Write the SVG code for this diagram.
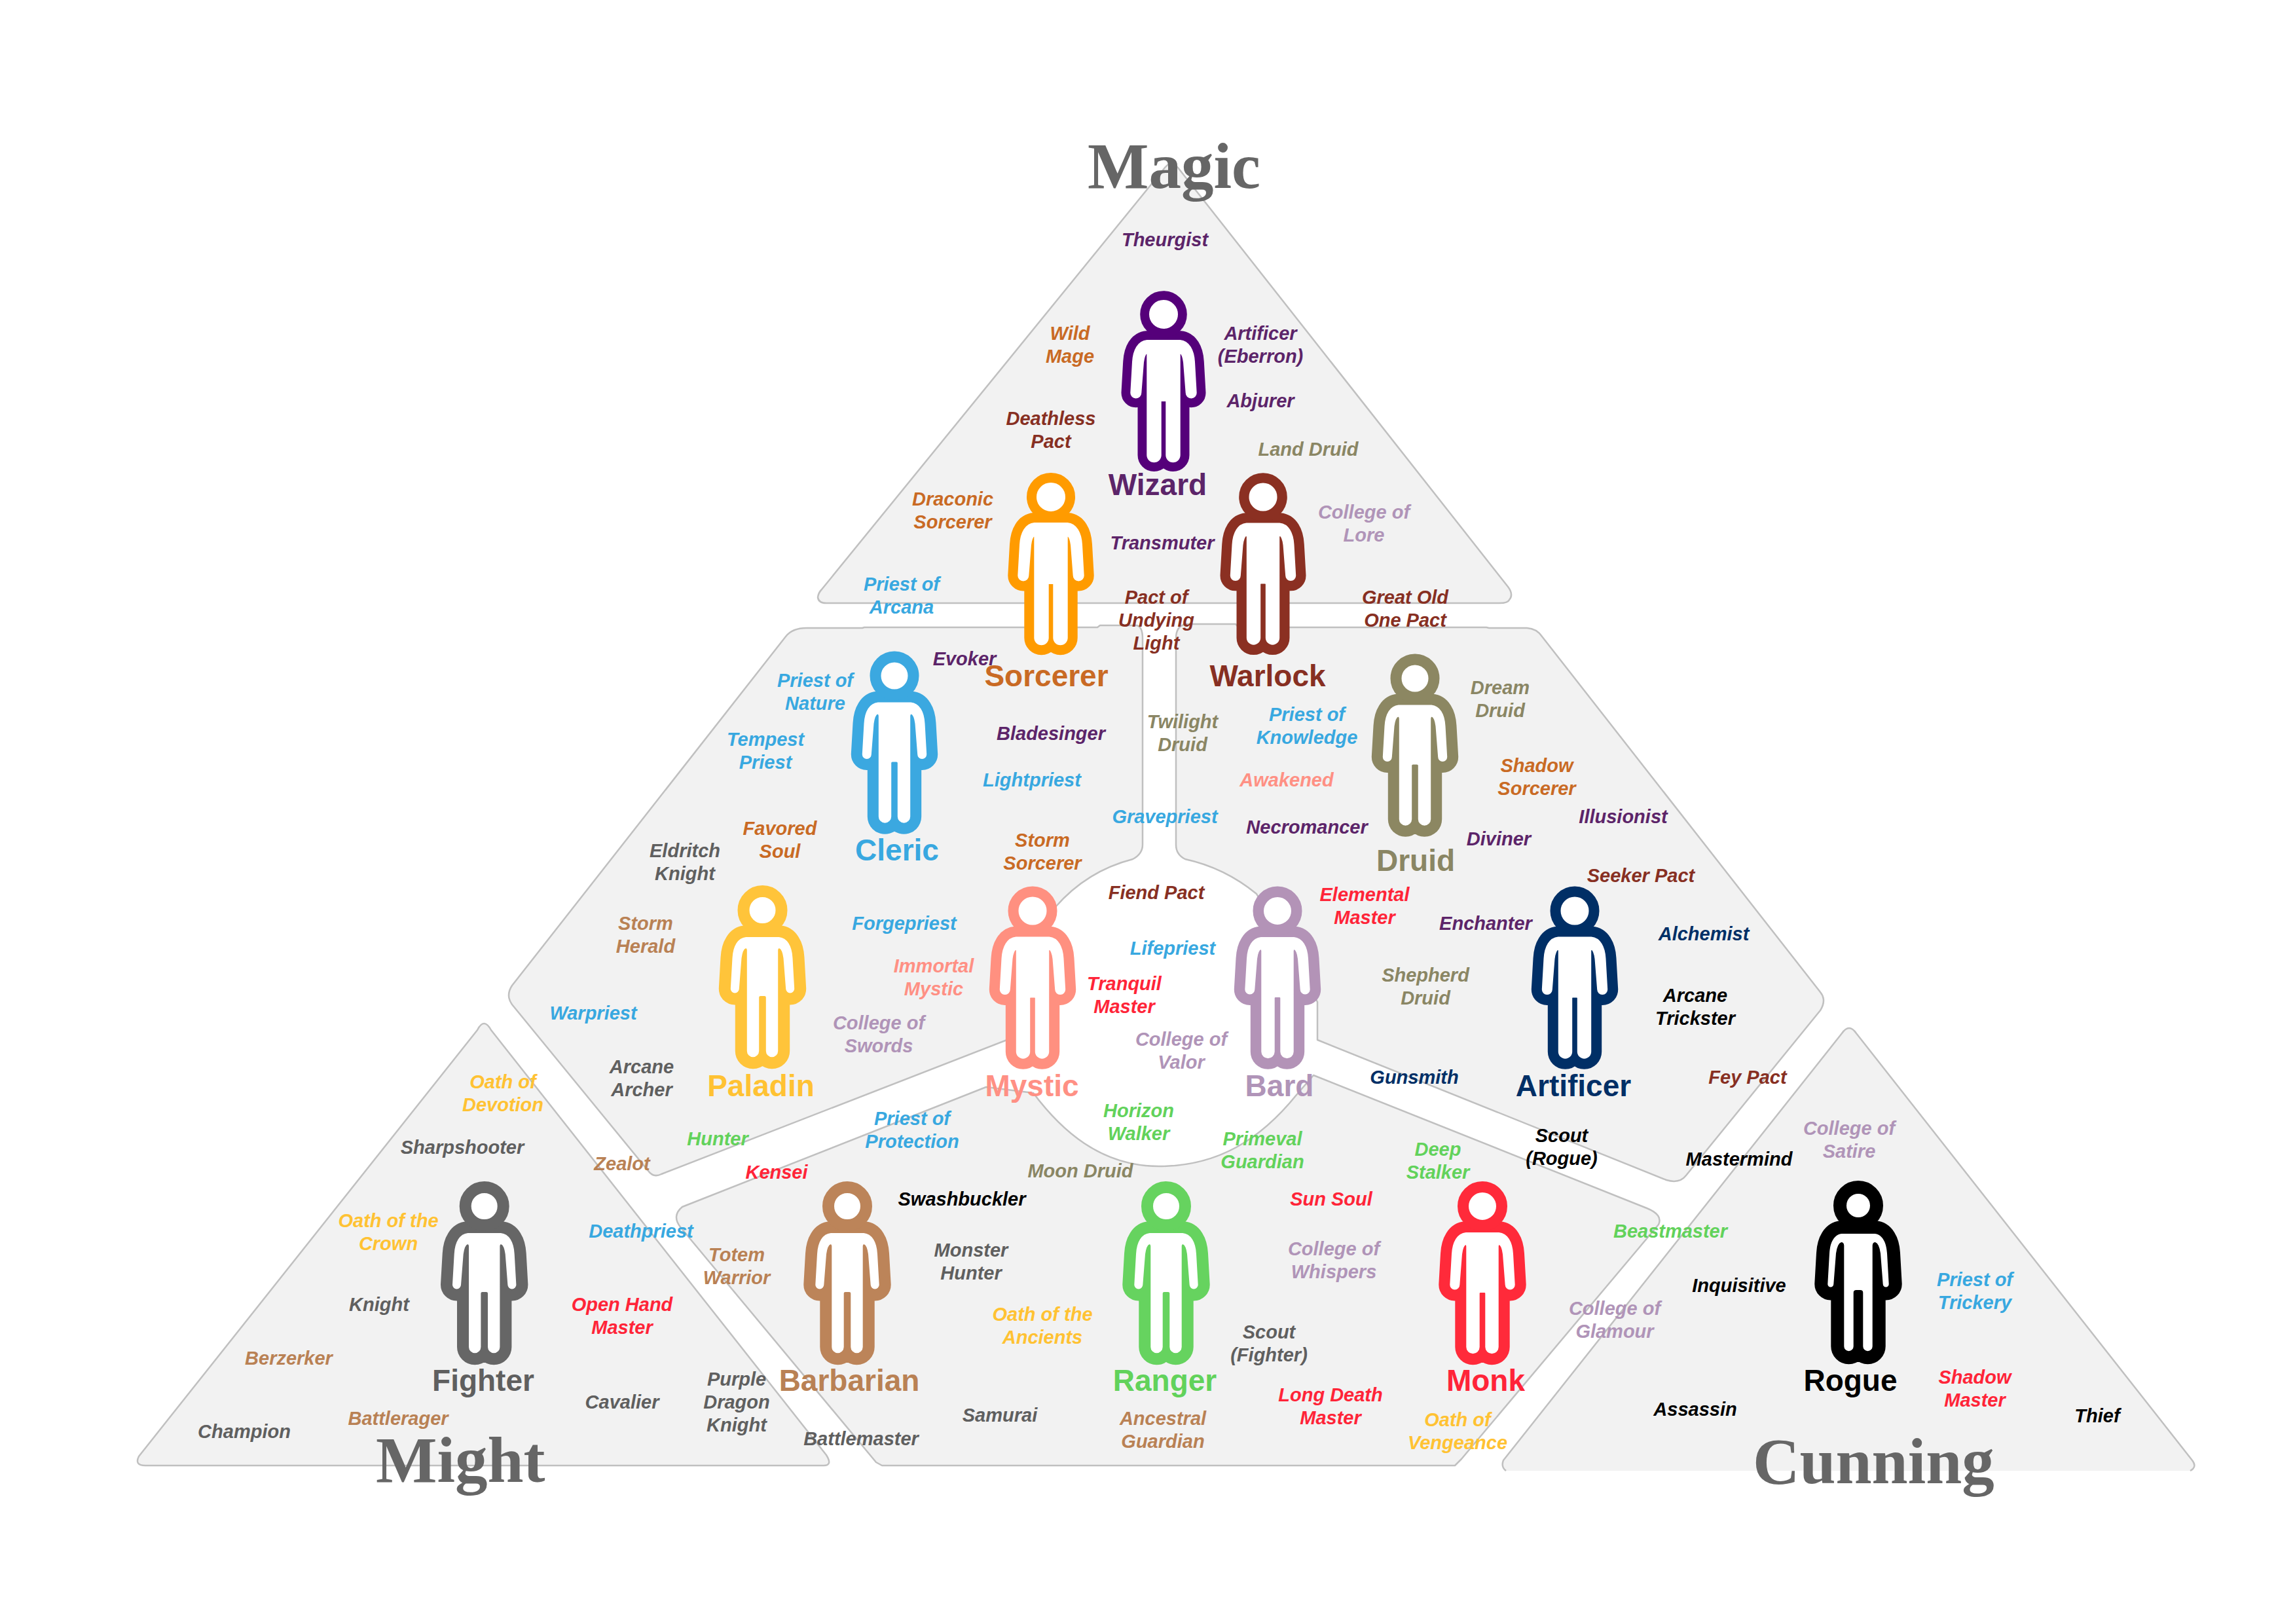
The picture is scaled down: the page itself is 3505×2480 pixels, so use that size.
<svg xmlns="http://www.w3.org/2000/svg" width="3505" height="2480" viewBox="0 0 3505 2480">
<style>
.r{fill:#f2f2f2;stroke:#c0c0c0;stroke-width:2.5;stroke-linejoin:round}
.title{font:bold 99px "Liberation Serif",serif;fill:#666}
.n{font:bold 46px "Liberation Sans",Arial,sans-serif;text-anchor:middle}
.l text,.l{font:italic bold 29px "Liberation Sans",Arial,sans-serif;text-anchor:middle}
.po{stroke-width:var(--t);stroke-linejoin:round;fill:none}
.pw{fill:#fff;stroke:#fff;stroke-width:var(--w);stroke-linejoin:round}
.wiz{fill:#5c2469}.sor{fill:#c96a24}.war{fill:#872f22}.cle{fill:#38a8e0}.dru{fill:#8a8664}.mys{fill:#ff9084}.brd{fill:#b094b8}.pal{fill:#ffc233}.art{fill:#002f66}.fig{fill:#5f5f5f}.bbn{fill:#b98154}.ran{fill:#62d25b}.mon{fill:#ff2438}.rog{fill:#000}
</style>
<defs>
<path id="pb" d="M-25 80C-36 81-43 92-44 110L-46.7 157A4.5 4.5 0 0 0-37.7 157L-34 110Q-32 95-26 93Q-22 93-21.7 98L-21.7 252A7.2 7.2 0 0 0-7.3 252L-7.3 170Q-7.3 166-3 166L3 166Q7.3 166 7.3 170L7.3 252A7.2 7.2 0 0 0 21.7 252L21.7 98Q22 93 26 93Q32 95 34 110L37.7 157A4.5 4.5 0 0 0 46.7 157L44 110C43 92 36 81 25 80Z"/>
<g id="person">
<use href="#pb" class="po"/>
<circle class="po" cx="0" cy="37" r="18"/>
<use href="#pb" class="pw"/>
<circle class="pw" cx="0" cy="37" r="18"/>
</g>
</defs>
<g id="regions">
<path id="region-magic" class="r" d="M1779 256Q1789 244 1799 256L2303 896Q2312 908 2305 916Q2303 921 2290 921L1262 921Q1250 921 1249 912Q1250 905 1255 900Z"/>
<path id="region-upper-left" class="r" d="M1232 959L1317 959L1320 958L1676 958L1680 955L1736 955Q1745 957 1745 975L1745 1290Q1745 1304 1730 1312Q1660 1330 1612 1385L1538 1588L1010 1793Q998 1799 990 1788L782 1534Q772 1520 782 1505L1200 972Q1210 959 1232 959Z"/>
<path id="region-upper-right" class="r" d="M1796 975Q1796 955 1812 953L1887 953L1892 958L2270 958L2274 959L2332 959Q2347 960 2355 972L2780 1515Q2790 1527 2780 1543L2575 1795Q2565 1808 2545 1802L2012 1588L2012 1530L1919 1365Q1870 1325 1810 1312Q1796 1305 1796 1290Z"/>
<path id="region-lower" class="r" d="M1042 1843L1506 1660L1578 1669C1620 1725 1680 1781 1770 1781C1860 1781 1925 1740 1980 1672L2006 1642L2515 1845Q2540 1855 2533 1870L2232 2228L2222 2238L1347 2238L1338 2233L1040 1875Q1025 1857 1042 1843Z"/>
<path id="region-might" class="r" d="M729 1573Q739 1553 750 1573L1262 2222Q1272 2238 1258 2238L222 2238Q205 2238 212 2224Z"/>
<path id="region-cunning" class="r" d="M2300 2246Q2292 2240 2296 2230L2813 1578Q2824 1562 2835 1578L3348 2230Q3356 2240 3345 2246"/>
</g>
<g id="wizard"><use href="#person" x="1777" y="443" stroke="#55007a" style="--t:35.6;--w:8"/><text class="n wiz" x="1768" y="756">Wizard</text></g>
<g id="sorcerer"><use href="#person" x="1605" y="722" stroke="#ff9b00" style="--t:38;--w:8"/><text class="n sor" x="1598" y="1048">Sorcerer</text></g>
<g id="warlock"><use href="#person" x="1929" y="722" stroke="#8b3022" style="--t:37.6;--w:7"/><text class="n war" x="1936" y="1048">Warlock</text></g>
<g id="cleric"><use href="#person" x="1366" y="995" stroke="#3ba8e0" style="--t:39;--w:5"/><text class="n cle" x="1370" y="1314">Cleric</text></g>
<g id="druid"><use href="#person" x="2161" y="999" stroke="#8c8762" style="--t:39;--w:5"/><text class="n dru" x="2162" y="1330">Druid</text></g>
<g id="mystic"><use href="#person" x="1577" y="1354" stroke="#ff9080" style="--t:39;--w:7"/><text class="n mys" x="1576" y="1674">Mystic</text></g>
<g id="bard"><use href="#person" x="1951" y="1354" stroke="#b393b7" style="--t:39;--w:6"/><text class="n brd" x="1954" y="1674">Bard</text></g>
<g id="paladin"><use href="#person" x="1164.5" y="1353" stroke="#ffc43a" style="--t:40;--w:4"/><text class="n pal" x="1162" y="1674">Paladin</text></g>
<g id="artificer"><use href="#person" x="2405" y="1354" stroke="#002f66" style="--t:39;--w:7"/><text class="n art" x="2403" y="1674">Artificer</text></g>
<g id="fighter"><use href="#person" x="739.7" y="1805" stroke="#666" style="--t:40;--w:4"/><text class="n fig" x="738" y="2124">Fighter</text></g>
<g id="barbarian"><use href="#person" x="1294" y="1805" stroke="#bc8459" style="--t:40;--w:4"/><text class="n bbn" x="1297" y="2124">Barbarian</text></g>
<g id="ranger"><use href="#person" x="1781" y="1805" stroke="#66d35f" style="--t:40;--w:4"/><text class="n ran" x="1779" y="2124">Ranger</text></g>
<g id="monk"><use href="#person" x="2264" y="1805" stroke="#ff2a3a" style="--t:40;--w:6"/><text class="n mon" x="2269" y="2124">Monk</text></g>
<g id="rogue"><use href="#person" x="2838" y="1804" stroke="#000" style="--t:40;--w:0"/><text class="n rog" x="2826" y="2124">Rogue</text></g>
<g id="subclasses" class="l" transform="translate(0 2)">
<text class="wiz" x="1779" y="374">Theurgist</text>
<text class="sor" x="1634" y="517">Wild<tspan x="1634" dy="35">Mage</tspan></text>
<text class="wiz" x="1925" y="517">Artificer<tspan x="1925" dy="35">(Eberron)</tspan></text>
<text class="wiz" x="1925" y="620">Abjurer</text>
<text class="war" x="1605" y="647">Deathless<tspan x="1605" dy="35">Pact</tspan></text>
<text class="dru" x="1998" y="694">Land Druid</text>
<text class="sor" x="1455" y="770">Draconic<tspan x="1455" dy="35">Sorcerer</tspan></text>
<text class="brd" x="2083" y="790">College of<tspan x="2083" dy="35">Lore</tspan></text>
<text class="wiz" x="1775" y="837">Transmuter</text>
<text class="cle" x="1377" y="900">Priest of<tspan x="1377" dy="35">Arcana</tspan></text>
<text class="war" x="1766" y="920">Pact of<tspan x="1766" dy="35">Undying</tspan><tspan x="1766" dy="35">Light</tspan></text>
<text class="war" x="2146" y="920">Great Old<tspan x="2146" dy="35">One Pact</tspan></text>
<text class="wiz" x="1473" y="1014">Evoker</text>
<text class="cle" x="1245" y="1047">Priest of<tspan x="1245" dy="35">Nature</tspan></text>
<text class="dru" x="2291" y="1058">Dream<tspan x="2291" dy="35">Druid</tspan></text>
<text class="dru" x="1806" y="1110">Twilight<tspan x="1806" dy="35">Druid</tspan></text>
<text class="cle" x="1996" y="1099">Priest of<tspan x="1996" dy="35">Knowledge</tspan></text>
<text class="wiz" x="1605" y="1128">Bladesinger</text>
<text class="cle" x="1169" y="1137">Tempest<tspan x="1169" dy="35">Priest</tspan></text>
<text class="sor" x="2347" y="1177">Shadow<tspan x="2347" dy="35">Sorcerer</tspan></text>
<text class="cle" x="1576" y="1199">Lightpriest</text>
<text class="mys" x="1965" y="1199">Awakened</text>
<text class="cle" x="1779" y="1255">Gravepriest</text>
<text class="wiz" x="2479" y="1255">Illusionist</text>
<text class="wiz" x="1996" y="1271">Necromancer</text>
<text class="sor" x="1191" y="1273">Favored<tspan x="1191" dy="35">Soul</tspan></text>
<text class="fig" x="1046" y="1307">Eldritch<tspan x="1046" dy="35">Knight</tspan></text>
<text class="wiz" x="2289" y="1289">Diviner</text>
<text class="sor" x="1592" y="1291">Storm<tspan x="1592" dy="35">Sorcerer</tspan></text>
<text class="war" x="2506" y="1345">Seeker Pact</text>
<text class="war" x="1766" y="1371">Fiend Pact</text>
<text class="mon" x="2084" y="1374">Elemental<tspan x="2084" dy="35">Master</tspan></text>
<text class="cle" x="1381" y="1418">Forgepriest</text>
<text class="bbn" x="986" y="1418">Storm<tspan x="986" dy="35">Herald</tspan></text>
<text class="wiz" x="2269" y="1418">Enchanter</text>
<text class="art" x="2602" y="1434">Alchemist</text>
<text class="cle" x="1791" y="1456">Lifepriest</text>
<text class="mys" x="1426" y="1483">Immortal<tspan x="1426" dy="35">Mystic</tspan></text>
<text class="dru" x="2177" y="1497">Shepherd<tspan x="2177" dy="35">Druid</tspan></text>
<text class="mon" x="1717" y="1510">Tranquil<tspan x="1717" dy="35">Master</tspan></text>
<text class="rog" x="2589" y="1528">Arcane<tspan x="2589" dy="35">Trickster</tspan></text>
<text class="cle" x="906" y="1555">Warpriest</text>
<text class="brd" x="1342" y="1570">College of<tspan x="1342" dy="35">Swords</tspan></text>
<text class="brd" x="1804" y="1595">College of<tspan x="1804" dy="35">Valor</tspan></text>
<text class="fig" x="980" y="1637">Arcane<tspan x="980" dy="35">Archer</tspan></text>
<text class="art" x="2160" y="1653">Gunsmith</text>
<text class="war" x="2669" y="1653">Fey Pact</text>
<text class="pal" x="768" y="1660">Oath of<tspan x="768" dy="35">Devotion</tspan></text>
<text class="ran" x="1739" y="1704">Horizon<tspan x="1739" dy="35">Walker</tspan></text>
<text class="cle" x="1393" y="1716">Priest of<tspan x="1393" dy="35">Protection</tspan></text>
<text class="ran" x="1096" y="1747">Hunter</text>
<text class="ran" x="1928" y="1747">Primeval<tspan x="1928" dy="35">Guardian</tspan></text>
<text class="rog" x="2385" y="1742">Scout<tspan x="2385" dy="35">(Rogue)</tspan></text>
<text class="brd" x="2824" y="1731">College of<tspan x="2824" dy="35">Satire</tspan></text>
<text class="fig" x="706" y="1760">Sharpshooter</text>
<text class="ran" x="2196" y="1763">Deep<tspan x="2196" dy="35">Stalker</tspan></text>
<text class="rog" x="2656" y="1778">Mastermind</text>
<text class="bbn" x="950" y="1785">Zealot</text>
<text class="dru" x="1650" y="1796">Moon Druid</text>
<text class="mon" x="1186" y="1798">Kensei</text>
<text class="rog" x="1469" y="1839">Swashbuckler</text>
<text class="mon" x="2033" y="1839">Sun Soul</text>
<text class="pal" x="593" y="1872">Oath of the<tspan x="593" dy="35">Crown</tspan></text>
<text class="cle" x="979" y="1888">Deathpriest</text>
<text class="ran" x="2551" y="1888">Beastmaster</text>
<text class="brd" x="2037" y="1915">College of<tspan x="2037" dy="35">Whispers</tspan></text>
<text class="fig" x="1483" y="1917">Monster<tspan x="1483" dy="35">Hunter</tspan></text>
<text class="bbn" x="1125" y="1924">Totem<tspan x="1125" dy="35">Warrior</tspan></text>
<text class="cle" x="3016" y="1962">Priest of<tspan x="3016" dy="35">Trickery</tspan></text>
<text class="rog" x="2656" y="1971">Inquisitive</text>
<text class="mon" x="950" y="2000">Open Hand<tspan x="950" dy="35">Master</tspan></text>
<text class="fig" x="579" y="2000">Knight</text>
<text class="brd" x="2466" y="2006">College of<tspan x="2466" dy="35">Glamour</tspan></text>
<text class="pal" x="1592" y="2015">Oath of the<tspan x="1592" dy="35">Ancients</tspan></text>
<text class="fig" x="1938" y="2042">Scout<tspan x="1938" dy="35">(Fighter)</tspan></text>
<text class="bbn" x="441" y="2082">Berzerker</text>
<text class="fig" x="1125" y="2114">Purple<tspan x="1125" dy="35">Dragon</tspan><tspan x="1125" dy="35">Knight</tspan></text>
<text class="mon" x="3016" y="2111">Shadow<tspan x="3016" dy="35">Master</tspan></text>
<text class="mon" x="2032" y="2138">Long Death<tspan x="2032" dy="35">Master</tspan></text>
<text class="fig" x="950" y="2149">Cavalier</text>
<text class="rog" x="2589" y="2160">Assassin</text>
<text class="fig" x="1527" y="2169">Samurai</text>
<text class="rog" x="3203" y="2170">Thief</text>
<text class="bbn" x="1776" y="2174">Ancestral<tspan x="1776" dy="35">Guardian</tspan></text>
<text class="bbn" x="608" y="2174">Battlerager</text>
<text class="pal" x="2226" y="2176">Oath of<tspan x="2226" dy="35">Vengeance</tspan></text>
<text class="fig" x="373" y="2194">Champion</text>
<text class="fig" x="1315" y="2205">Battlemaster</text>
</g>
<g id="titles">
<text class="title" x="1661" y="287">Magic</text>
<text class="title" x="574" y="2263">Might</text>
<text class="title" x="2677" y="2265">Cunning</text>
</g>
</svg>
